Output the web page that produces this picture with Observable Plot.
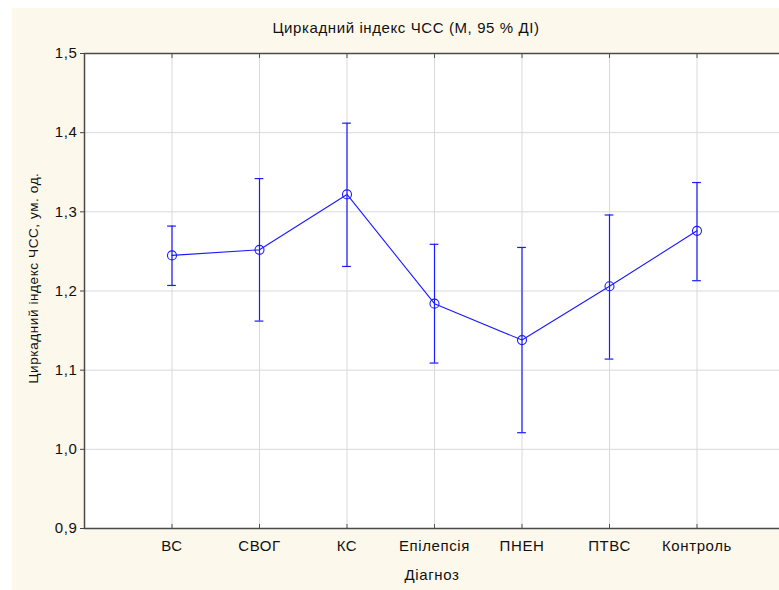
<!DOCTYPE html>
<html>
<head>
<meta charset="utf-8">
<script src="https://cdn.jsdelivr.net/npm/d3@7"></script>
<script src="https://cdn.jsdelivr.net/npm/@observablehq/plot@0.6"></script>
<style>
  html, body { margin: 0; padding: 0; background: #ffffff; overflow: hidden; }
  #wrap { position: absolute; left: 12px; top: 8px; width: 767px; height: 582px; background: #fdf8ec; overflow: hidden; }
  svg { overflow: hidden; }
</style>
</head>
<body>
<div id="wrap"></div>
<script>
const categories = ["ВС", "СВОГ", "КС", "Епілепсія", "ПНЕН", "ПТВС", "Контроль"];
const means = [1.245, 1.252, 1.322, 1.184, 1.138, 1.206, 1.276];
const lower = [1.207, 1.162, 1.231, 1.109, 1.021, 1.114, 1.213];
const upper = [1.282, 1.342, 1.412, 1.259, 1.255, 1.296, 1.337];
const yTicks = [0.9, 1.0, 1.1, 1.2, 1.3, 1.4, 1.5];
const title = "Циркадний індекс ЧСС (M, 95 % ДІ)";
const yLabel = "Циркадний індекс ЧСС, ум. од.";
const xLabel = "Діагноз";

const data = categories.map((c, i) => ({pos: i + 1, cat: c, mean: means[i], lo: lower[i], hi: upper[i]}));
const xPos = data.map(d => d.pos);
const blue = "#1a1aff";
const font = "Liberation Sans, Arial, sans-serif";
const cap = 0.05;
const fs = 15;

const chart = Plot.plot({
  width: 767,
  height: 582,
  marginLeft: 72,
  marginTop: 45,
  marginBottom: 62,
  marginRight: 0,
  style: {background: "transparent", fontFamily: font, fontSize: fs + "px", color: "#111", overflow: "hidden", letterSpacing: "0.6px"},
  x: {type: "linear", domain: [0, 8], range: [72, 772]},
  y: {domain: [0.9, 1.5]},
  marks: [
    Plot.frame({fill: "white", stroke: null}),
    Plot.gridX(xPos, {stroke: "#d9d9d9", strokeOpacity: 1}),
    Plot.gridY(yTicks, {stroke: "#d9d9d9", strokeOpacity: 1}),
    Plot.axisY(yTicks, {tickFormat: d => d.toFixed(1).replace(".", ","), tickSize: 4, tickPadding: 3, label: null, fontSize: fs, stroke: "#444"}),
    Plot.axisX(xPos, {anchor: "bottom", tickFormat: i => categories[i - 1], tickSize: -4, tickPadding: 16, label: null, fontSize: fs, stroke: "#555"}),
    Plot.axisX(xPos, {anchor: "top", tickFormat: () => "", tickSize: -4, label: null, stroke: "#555"}),
    Plot.ruleY([0.9, 1.5], {stroke: "#4a4a4a", strokeWidth: 1.5}),
    Plot.ruleX([0], {stroke: "#4a4a4a", strokeWidth: 1.5}),
    Plot.ruleX(data, {x: "pos", y1: "lo", y2: "hi", stroke: blue, strokeWidth: 1.2}),
    Plot.ruleY(data, {y: "lo", x1: d => d.pos - cap, x2: d => d.pos + cap, stroke: blue, strokeWidth: 1.2}),
    Plot.ruleY(data, {y: "hi", x1: d => d.pos - cap, x2: d => d.pos + cap, stroke: blue, strokeWidth: 1.2}),
    Plot.line(data, {x: "pos", y: "mean", stroke: blue, strokeWidth: 1.1}),
    Plot.dot(data, {x: "pos", y: "mean", r: 4.5, stroke: blue, strokeWidth: 1.1, fill: "none"}),
    Plot.text([title], {frameAnchor: "top", lineAnchor: "middle", dx: -26, dy: -25, fontSize: 15, fill: "#111"}),
    Plot.text([xLabel], {frameAnchor: "bottom", lineAnchor: "middle", dy: 47, fontSize: fs, fill: "#111"}),
    Plot.text([yLabel], {frameAnchor: "left", textAnchor: "middle", lineAnchor: "middle", rotate: -90, dx: -51, dy: -13, fontSize: 13.5, fill: "#111"})
  ]
});
document.getElementById("wrap").appendChild(chart);
</script>
</body>
</html>
